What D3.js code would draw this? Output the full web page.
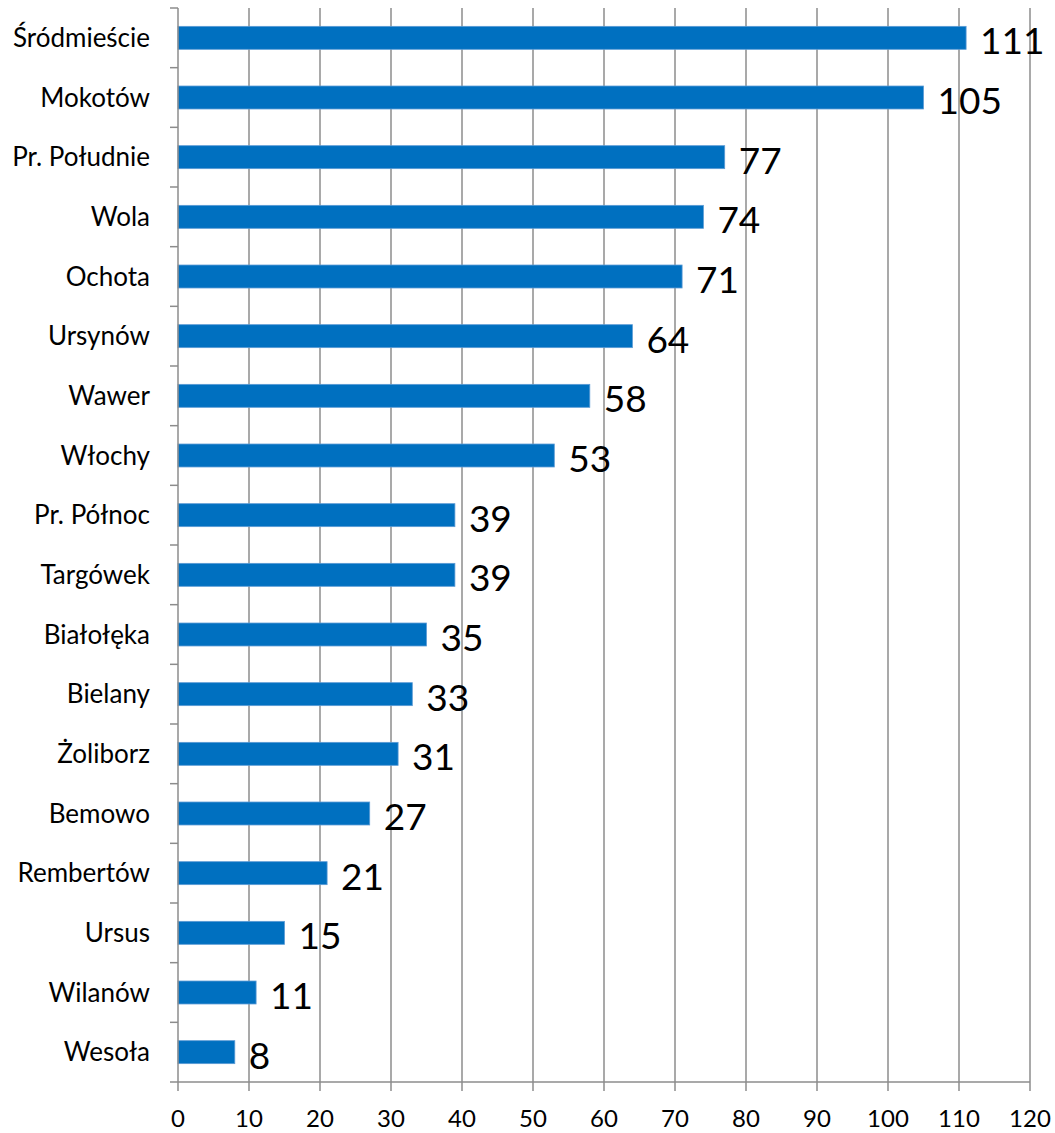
<!DOCTYPE html>
<html><head><meta charset="utf-8">
<script src="https://cdn.jsdelivr.net/npm/d3@7"></script>
<style>body{margin:0;background:#fff}svg{display:block}</style>
</head><body>
<svg id="c" width="1055" height="1133"></svg>
<script>
const categories = ["Śródmieście","Mokotów","Pr. Południe","Wola","Ochota","Ursynów","Wawer","Włochy","Pr. Północ","Targówek","Białołęka","Bielany","Żoliborz","Bemowo","Rembertów","Ursus","Wilanów","Wesoła"];
const values = [111,105,77,74,71,64,58,53,39,39,35,33,31,27,21,15,11,8];
const xTicks = [0,10,20,30,40,50,60,70,80,90,100,110,120];

(function(){
const svg = d3.select("#c");
const pL = 178, pR = 1030, pT = 8, pB = 1082;
const x = d3.scaleLinear().domain([0,120]).range([pL,pR]);
const y = d3.scaleBand().domain(categories).range([pT,pB]).paddingInner(0.615).paddingOuter(0.3075);
const step = y.step();
const font = "Lato, 'Open Sans', sans-serif";
const grey = "#8c8c8c";

// gridlines
svg.append("g").selectAll("line").data(xTicks.slice(1)).join("line")
  .attr("x1",d=>x(d)).attr("x2",d=>x(d)).attr("y1",pT).attr("y2",pB)
  .attr("stroke",grey).attr("stroke-width",1.5);

// bars
svg.append("g").selectAll("rect").data(categories).join("rect")
  .attr("x",x(0)).attr("y",d=>y(d)).attr("width",(d,i)=>x(values[i])-x(0)).attr("height",y.bandwidth())
  .attr("fill","#0070C0").attr("stroke","#5b9bd5").attr("stroke-width",0.8);

// value labels
svg.append("g").selectAll("text").data(categories).join("text")
  .attr("x",(d,i)=>x(values[i])+14).attr("y",d=>y(d)+y.bandwidth()/2+16.5)
  .attr("font-family",font).attr("font-size",37).attr("fill","#000")
  .text((d,i)=>values[i]);

// left axis
svg.append("line").attr("x1",pL).attr("x2",pL).attr("y1",pT).attr("y2",pB)
  .attr("stroke",grey).attr("stroke-width",1.5);
const bounds = d3.range(categories.length+1).map(i=>pT+i*step);
svg.append("g").selectAll("line").data(bounds).join("line")
  .attr("x1",170).attr("x2",pL).attr("y1",d=>d).attr("y2",d=>d)
  .attr("stroke",grey).attr("stroke-width",1.5);
svg.append("g").selectAll("text").data(categories).join("text")
  .attr("x",150).attr("y",d=>y(d)+y.bandwidth()/2+9).attr("text-anchor","end")
  .attr("font-family",font).attr("font-size",26).attr("fill","#000").text(d=>d);

// bottom axis
svg.append("line").attr("x1",pL).attr("x2",pR).attr("y1",pB).attr("y2",pB)
  .attr("stroke",grey).attr("stroke-width",1.5);
svg.append("g").selectAll("line").data(xTicks).join("line")
  .attr("x1",d=>x(d)).attr("x2",d=>x(d)).attr("y1",pB).attr("y2",pB+9)
  .attr("stroke",grey).attr("stroke-width",1.5);
svg.append("g").selectAll("text").data(xTicks).join("text")
  .attr("x",d=>x(d)).attr("y",1127).attr("text-anchor","middle")
  .attr("font-family",font).attr("font-size",24).attr("fill","#000").text(d=>d);
})();
</script>
</body></html>
